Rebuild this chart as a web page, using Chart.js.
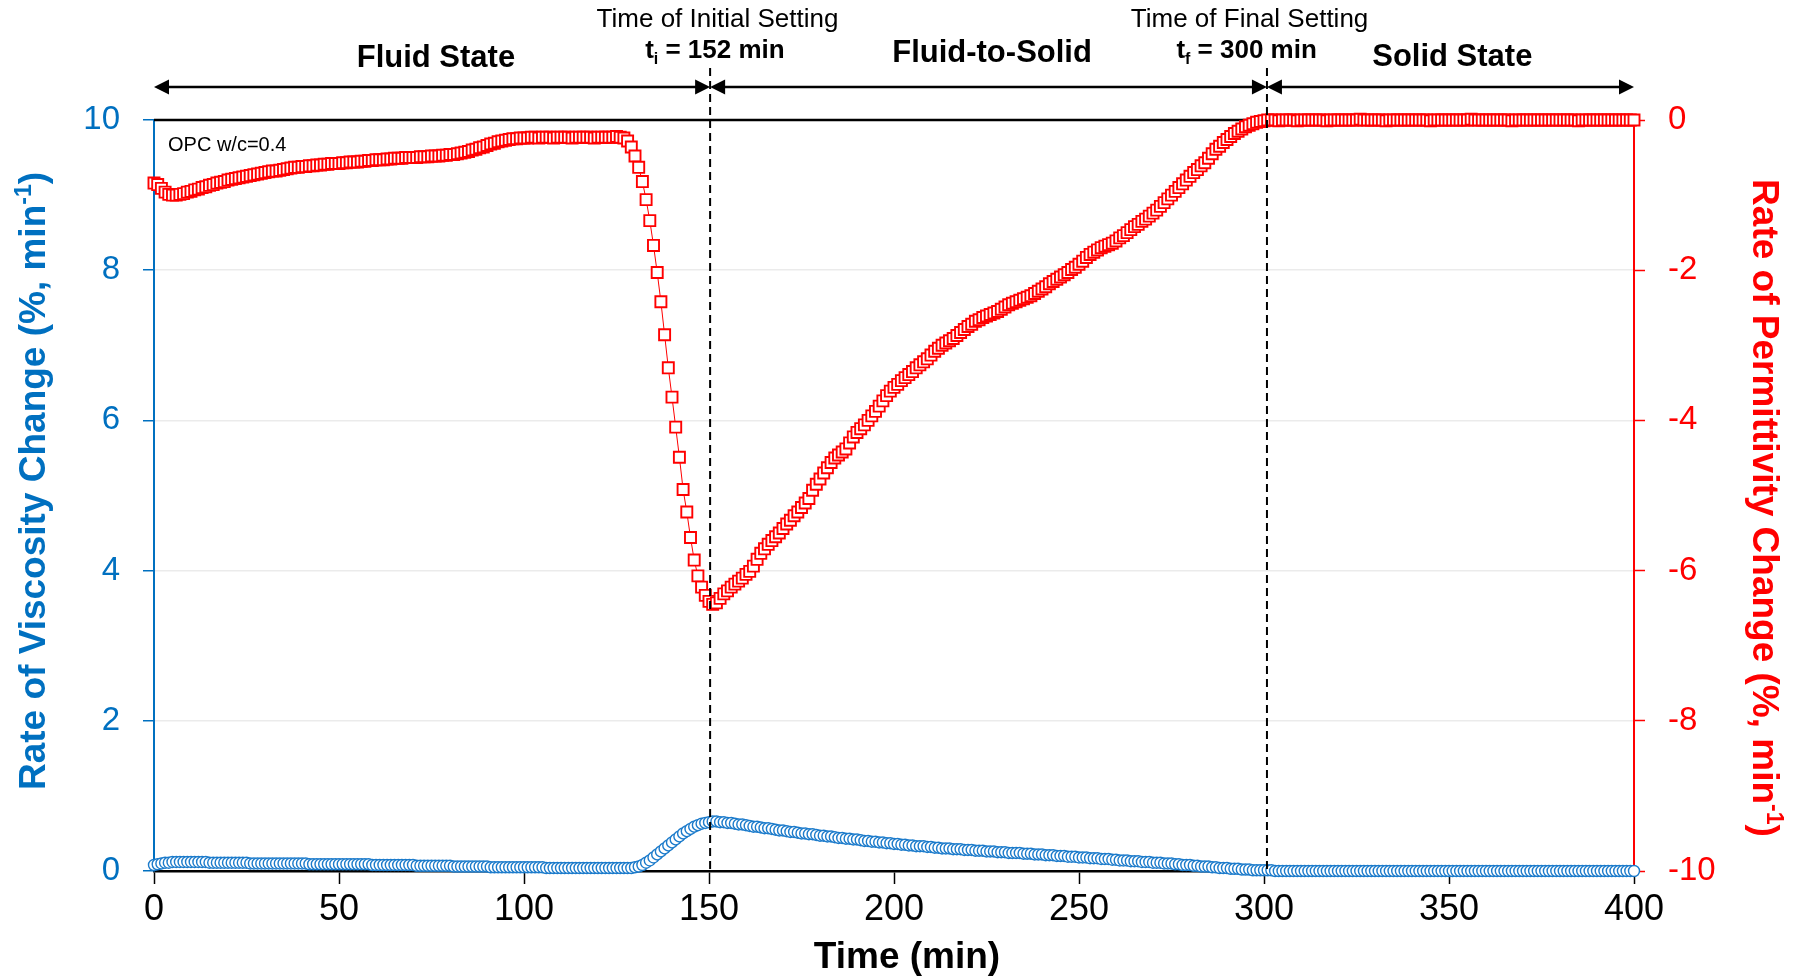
<!DOCTYPE html>
<html>
<head>
<meta charset="utf-8">
<title>Rate of viscosity and permittivity change, OPC w/c=0.4</title>
<script src="https://cdn.jsdelivr.net/npm/chart.js@4.4.1/dist/chart.umd.min.js"></script>
<style>
  html, body { margin: 0; padding: 0; background: #fff; }
  canvas { display: block; }
</style>
</head>
<body>
<canvas id="chart" width="1800" height="979"></canvas>
<script>
// Readings taken once a minute, 0..400 min (one row = 10 min)
const viscosityRate = [
  0.08,0.09,0.10,0.11,0.11,0.12,0.12,0.12,0.12,0.12,
  0.12,0.12,0.12,0.12,0.12,0.11,0.11,0.11,0.11,0.11,
  0.11,0.11,0.11,0.11,0.11,0.11,0.10,0.10,0.10,0.10,
  0.10,0.10,0.10,0.10,0.10,0.10,0.10,0.10,0.10,0.10,
  0.10,0.10,0.09,0.09,0.09,0.09,0.09,0.09,0.09,0.09,
  0.09,0.09,0.09,0.09,0.09,0.09,0.09,0.09,0.09,0.08,
  0.08,0.08,0.08,0.08,0.08,0.08,0.08,0.08,0.08,0.08,
  0.08,0.07,0.07,0.07,0.07,0.07,0.07,0.07,0.07,0.07,
  0.07,0.06,0.06,0.06,0.06,0.06,0.06,0.06,0.06,0.06,
  0.06,0.05,0.05,0.05,0.05,0.05,0.05,0.05,0.05,0.05,
  0.05,0.05,0.05,0.05,0.05,0.05,0.04,0.04,0.04,0.04,
  0.04,0.04,0.04,0.04,0.04,0.04,0.04,0.04,0.04,0.04,
  0.04,0.04,0.04,0.04,0.04,0.04,0.04,0.04,0.04,0.04,
  0.05,0.06,0.08,0.11,0.14,0.18,0.22,0.26,0.30,0.34,
  0.38,0.42,0.46,0.50,0.53,0.56,0.59,0.61,0.63,0.64,
  0.65,0.66,0.66,0.65,0.65,0.64,0.64,0.63,0.62,0.62,
  0.61,0.60,0.59,0.59,0.58,0.57,0.57,0.56,0.55,0.54,
  0.54,0.53,0.52,0.52,0.51,0.50,0.50,0.49,0.49,0.48,
  0.47,0.47,0.46,0.46,0.45,0.44,0.44,0.43,0.43,0.42,
  0.42,0.41,0.40,0.40,0.39,0.39,0.38,0.38,0.37,0.37,
  0.36,0.36,0.35,0.35,0.34,0.34,0.33,0.33,0.33,0.32,
  0.32,0.31,0.31,0.30,0.30,0.30,0.29,0.29,0.29,0.28,
  0.28,0.28,0.27,0.27,0.27,0.26,0.26,0.26,0.25,0.25,
  0.25,0.24,0.24,0.24,0.24,0.23,0.23,0.23,0.22,0.22,
  0.22,0.21,0.21,0.21,0.20,0.20,0.20,0.19,0.19,0.19,
  0.18,0.18,0.18,0.17,0.17,0.17,0.16,0.16,0.16,0.15,
  0.15,0.14,0.14,0.14,0.13,0.13,0.13,0.12,0.12,0.12,
  0.11,0.11,0.11,0.10,0.10,0.10,0.09,0.09,0.08,0.08,
  0.08,0.07,0.07,0.06,0.06,0.06,0.05,0.05,0.04,0.04,
  0.04,0.03,0.03,0.03,0.02,0.02,0.02,0.01,0.01,0.01,
  0.01,0.01,0.01,0,0,0,0,0,0,0,
  0,0,0,0,0,0,0,0,0,0,
  0,0,0,0,0,0,0,0,0,0,
  0,0,0,0,0,0,0,0,0,0,
  0,0,0,0,0,0,0,0,0,0,
  0,0,0,0,0,0,0,0,0,0,
  0,0,0,0,0,0,0,0,0,0,
  0,0,0,0,0,0,0,0,0,0,
  0,0,0,0,0,0,0,0,0,0,
  0,0,0,0,0,0,0,0,0,0,
  0
];

const permittivityRate = [
  -0.84,-0.86,-0.91,-0.96,-0.99,-1.00,-1.00,-0.99,-0.98,-0.96,
  -0.95,-0.93,-0.92,-0.90,-0.89,-0.87,-0.86,-0.84,-0.83,-0.82,
  -0.80,-0.79,-0.78,-0.77,-0.76,-0.75,-0.74,-0.73,-0.72,-0.71,
  -0.70,-0.69,-0.68,-0.68,-0.67,-0.66,-0.65,-0.64,-0.63,-0.63,
  -0.62,-0.62,-0.61,-0.61,-0.60,-0.60,-0.59,-0.59,-0.58,-0.58,
  -0.58,-0.57,-0.57,-0.56,-0.56,-0.56,-0.55,-0.55,-0.54,-0.54,
  -0.53,-0.53,-0.53,-0.52,-0.52,-0.51,-0.51,-0.51,-0.50,-0.50,
  -0.50,-0.50,-0.49,-0.49,-0.49,-0.48,-0.48,-0.48,-0.47,-0.47,
  -0.46,-0.46,-0.45,-0.44,-0.43,-0.42,-0.40,-0.39,-0.37,-0.36,
  -0.34,-0.32,-0.31,-0.29,-0.28,-0.27,-0.26,-0.25,-0.25,-0.24,
  -0.24,-0.24,-0.23,-0.23,-0.24,-0.23,-0.23,-0.23,-0.24,-0.23,
  -0.23,-0.23,-0.23,-0.24,-0.23,-0.23,-0.23,-0.23,-0.23,-0.24,
  -0.23,-0.23,-0.23,-0.23,-0.23,-0.22,-0.23,-0.24,-0.28,-0.36,
  -0.48,-0.63,-0.82,-1.06,-1.34,-1.67,-2.03,-2.42,-2.86,-3.30,
  -3.69,-4.09,-4.49,-4.92,-5.22,-5.56,-5.86,-6.07,-6.22,-6.33,
  -6.41,-6.45,-6.43,-6.37,-6.31,-6.27,-6.22,-6.18,-6.14,-6.10,
  -6.05,-6.01,-5.94,-5.85,-5.77,-5.71,-5.65,-5.60,-5.55,-5.50,
  -5.44,-5.38,-5.33,-5.27,-5.22,-5.16,-5.10,-5.04,-4.93,-4.85,
  -4.78,-4.70,-4.63,-4.56,-4.50,-4.46,-4.42,-4.38,-4.30,-4.22,
  -4.16,-4.11,-4.06,-4.00,-3.94,-3.88,-3.81,-3.74,-3.67,-3.61,
  -3.56,-3.52,-3.47,-3.43,-3.39,-3.35,-3.30,-3.26,-3.22,-3.18,
  -3.13,-3.08,-3.04,-3.00,-2.97,-2.94,-2.91,-2.87,-2.83,-2.79,
  -2.75,-2.72,-2.68,-2.66,-2.63,-2.61,-2.59,-2.57,-2.55,-2.52,
  -2.49,-2.46,-2.44,-2.42,-2.40,-2.38,-2.36,-2.34,-2.31,-2.28,
  -2.25,-2.22,-2.18,-2.15,-2.12,-2.09,-2.06,-2.03,-1.99,-1.96,
  -1.92,-1.88,-1.83,-1.79,-1.76,-1.73,-1.70,-1.68,-1.66,-1.64,
  -1.61,-1.57,-1.54,-1.50,-1.46,-1.42,-1.39,-1.35,-1.32,-1.28,
  -1.24,-1.20,-1.15,-1.10,-1.05,-1.00,-0.95,-0.90,-0.85,-0.80,
  -0.75,-0.70,-0.66,-0.61,-0.57,-0.51,-0.45,-0.39,-0.35,-0.30,
  -0.26,-0.22,-0.18,-0.15,-0.12,-0.09,-0.07,-0.05,-0.03,-0.02,
  -0.01,0,0,0,-0.01,0,0,0,0,-0.01,
  0,0,0,0,0,0,0,-0.01,0,0,
  0,0,0,0,0,0,0.01,0,0,0,
  0,0,0,-0.01,0,0,0,0,0,0,
  0,0,0,0,0,-0.01,0,0,0,0,
  0,0,0,0,0,0,0.01,0,0,0,
  0,0,0,0,0,0,0,-0.01,0,0,
  0,0,0,0,0,0,0,0,0,0,
  0,0,0,0,0,-0.01,0,0,0,0,
  0,0,0,0,0,0,0,0,0,0,
  0
];

const timeMin = viscosityRate.map((_, i) => i);

// setting times: where the dashed lines sit, and the values printed in the labels
const settingLines = [150.3, 300.8];
const settingValues = [152, 300];
const settingNames = ['Time of Initial Setting', 'Time of Final Setting'];
const settingSubs = ['i', 'f'];
const phaseNames = ['Fluid State', 'Fluid-to-Solid', 'Solid State'];
const sampleNote = 'OPC w/c=0.4';

const BLUE = '#0070C0';
const RED = '#FF0000';
const FONT = "'Liberation Sans', Arial, sans-serif";
Chart.defaults.font.family = FONT;

function richText(ctx, parts, x, y, align) {
  // parts: [text, size, bold, dy]
  let w = 0;
  parts.forEach(p => {
    ctx.font = (p[2] ? 'bold ' : '') + p[1] + 'px ' + FONT;
    w += ctx.measureText(p[0]).width;
  });
  let cx = align === 'center' ? x - w / 2 : x;
  parts.forEach(p => {
    ctx.font = (p[2] ? 'bold ' : '') + p[1] + 'px ' + FONT;
    ctx.fillText(p[0], cx, y + (p[3] || 0));
    cx += ctx.measureText(p[0]).width;
  });
}

function doubleArrow(ctx, x1, x2, y) {
  const hl = 15, hw = 7.5;
  ctx.beginPath();
  ctx.moveTo(x1 + hl - 1, y);
  ctx.lineTo(x2 - hl + 1, y);
  ctx.stroke();
  ctx.beginPath();
  ctx.moveTo(x1, y); ctx.lineTo(x1 + hl, y - hw); ctx.lineTo(x1 + hl, y + hw);
  ctx.closePath(); ctx.fill();
  ctx.beginPath();
  ctx.moveTo(x2, y); ctx.lineTo(x2 - hl, y - hw); ctx.lineTo(x2 - hl, y + hw);
  ctx.closePath(); ctx.fill();
}

const annotations = {
  id: 'annotations',
  beforeDatasetsDraw(chart) {
    const { ctx, chartArea: a } = chart;
    ctx.save();
    ctx.strokeStyle = '#000';
    ctx.lineWidth = 2.5;
    ctx.beginPath();
    ctx.moveTo(a.left, a.top);
    ctx.lineTo(a.right + 1, a.top);
    ctx.stroke();
    ctx.restore();
  },
  afterDatasetsDraw(chart) {
    const { ctx, chartArea: a } = chart;
    const xs = chart.scales.x;
    const px = v => xs.getPixelForValue(v);
    ctx.save();

    // setting times
    ctx.strokeStyle = '#000';
    ctx.lineWidth = 2;
    ctx.setLineDash([8, 5]);
    settingLines.forEach(t => {
      ctx.beginPath();
      ctx.moveTo(px(t), 68);
      ctx.lineTo(px(t), a.bottom);
      ctx.stroke();
    });
    ctx.setLineDash([]);

    // phase arrows
    ctx.fillStyle = '#000';
    ctx.lineWidth = 2.5;
    const bounds = [0, settingLines[0], settingLines[1], 400];
    for (let i = 0; i < 3; i++) doubleArrow(ctx, px(bounds[i]), px(bounds[i + 1]), 87);

    ctx.textBaseline = 'alphabetic';
    ctx.textAlign = 'left';
    ctx.fillStyle = '#000';
    richText(ctx, [[phaseNames[0], 31, true]], px(76.2), 66.5, 'center');
    richText(ctx, [[phaseNames[1], 31, true]], px(226.5), 61.5, 'center');
    richText(ctx, [[phaseNames[2], 31, true]], px(350.9), 66, 'center');

    const nameX = [152.3, 296.1], valX = [151.6, 295.3];
    for (let i = 0; i < 2; i++) {
      richText(ctx, [[settingNames[i], 26, false]], px(nameX[i]), 27, 'center');
      richText(ctx, [['t', 26, true], [settingSubs[i], 16, true, 6],
        [' = ' + settingValues[i] + ' min', 26, true]], px(valX[i]), 58, 'center');
    }

    richText(ctx, [[sampleNote, 20, false]], a.left + 14, 151, 'left');

    // axis titles
    richText(ctx, [['Time (min)', 37, true]], 907, 968, 'center');

    ctx.save();
    ctx.fillStyle = BLUE;
    ctx.translate(45, 481);
    ctx.rotate(-Math.PI / 2);
    richText(ctx, [['Rate of Viscosity Change (%, min', 37, true], ['-1', 23, true, -14], [')', 37, true]], 0, 0, 'center');
    ctx.restore();

    ctx.save();
    ctx.fillStyle = RED;
    ctx.translate(1753, 508);
    ctx.rotate(Math.PI / 2);
    richText(ctx, [['Rate of Permittivity Change (%, min', 37, true], ['-1', 23, true, -14], [')', 37, true]], 0, 0, 'center');
    ctx.restore();

    ctx.restore();
  }
};

new Chart(document.getElementById('chart').getContext('2d'), {
  type: 'line',
  data: {
    datasets: [
      {
        label: 'Rate of Viscosity Change',
        data: timeMin.map((t, i) => ({ x: t, y: viscosityRate[i] })),
        yAxisID: 'yLeft',
        borderColor: BLUE,
        borderWidth: 1,
        pointStyle: 'circle',
        pointRadius: 5.5,
        pointBorderWidth: 1.4,
        pointBorderColor: '#1C7BCB',
        pointBackgroundColor: '#fff',
        clip: false
      },
      {
        label: 'Rate of Permittivity Change',
        data: timeMin.map((t, i) => ({ x: t, y: permittivityRate[i] })),
        yAxisID: 'yRight',
        borderColor: RED,
        borderWidth: 1,
        pointStyle: 'rect',
        pointRadius: 7.8,
        pointBorderWidth: 1.9,
        pointBorderColor: RED,
        pointBackgroundColor: '#fff',
        clip: false
      }
    ]
  },
  options: {
    responsive: false,
    animation: false,
    devicePixelRatio: 1,
    layout: { padding: { top: 120, left: 0, right: 0, bottom: 0 } },
    plugins: { legend: { display: false }, tooltip: { enabled: false } },
    scales: {
      x: {
        type: 'linear',
        min: 0, max: 400,
        ticks: { stepSize: 50, color: '#000', font: { size: 36 }, padding: 4, maxRotation: 0 },
        grid: { drawOnChartArea: false, tickLength: 13, tickColor: '#000', tickWidth: 1.5 },
        border: { color: '#000', width: 2.5 },
        afterFit(s) { s.height = 108; }
      },
      yLeft: {
        position: 'left',
        min: 0, max: 10,
        ticks: { stepSize: 2, color: BLUE, font: { size: 33 }, padding: 23 },
        grid: { color: '#ebebeb', lineWidth: 1.5, tickLength: 11, tickColor: BLUE, tickWidth: 1.5 },
        border: { color: BLUE, width: 2 },
        afterFit(s) { s.width = 154; }
      },
      yRight: {
        position: 'right',
        min: -10, max: 0,
        ticks: { stepSize: 2, color: RED, font: { size: 33 }, padding: 23 },
        grid: { drawOnChartArea: false, tickLength: 11, tickColor: RED, tickWidth: 1.5 },
        border: { color: RED, width: 2 },
        afterFit(s) { s.width = 166; }
      }
    }
  },
  plugins: [annotations]
});
</script>
</body>
</html>
